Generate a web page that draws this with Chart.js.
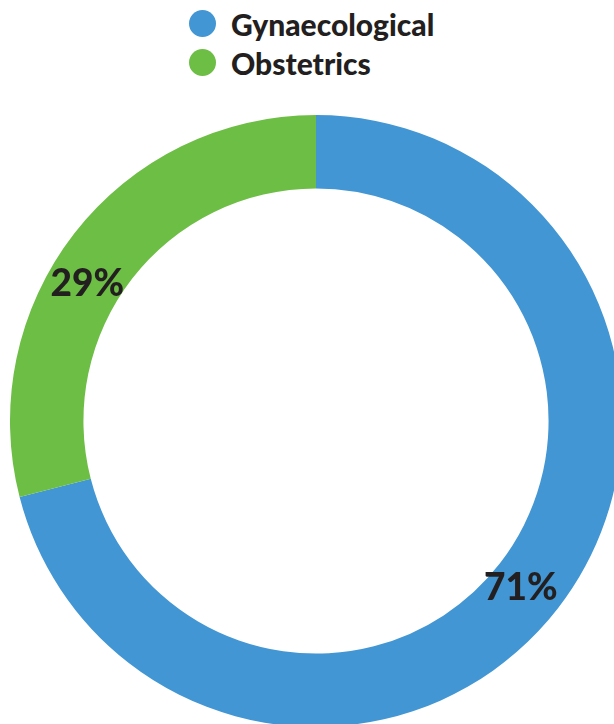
<!DOCTYPE html>
<html>
<head>
<meta charset="utf-8">
<script src="https://cdn.jsdelivr.net/npm/chart.js@4"></script>
<style>
  html, body { margin: 0; padding: 0; width: 614px; height: 724px; overflow: hidden; background: #fff; }
  #legend { position: absolute; left: 189px; top: 4px; font-family: Lato, "Open Sans", sans-serif; font-weight: 900; font-size: 30px; color: #231f20; }
  .item { display: flex; align-items: center; height: 39px; }
  .dot { width: 27px; height: 27px; border-radius: 50%; margin-right: 15px; }
  #wrap { position: absolute; left: 10px; top: 115px; width: 612px; height: 612px; }
</style>
</head>
<body>
<div id="legend"></div>
<div id="wrap"><canvas id="c" width="612" height="612"></canvas></div>
<script>
const categories = ["Gynaecological", "Obstetrics"];
const shares = [71, 29];
const percentLabels = ["71%", "29%"];
const colors = ["#4196d3", "#6dbe45"];

const legend = document.getElementById('legend');
categories.forEach((name, i) => {
  const row = document.createElement('div');
  row.className = 'item';
  const dot = document.createElement('span');
  dot.className = 'dot';
  dot.style.background = colors[i];
  const txt = document.createElement('span');
  txt.textContent = name;
  row.appendChild(dot);
  row.appendChild(txt);
  legend.appendChild(row);
});

// small nudges so the labels sit where the original places them
const labelNudge = [[-8, 2], [-16, 28]];

const labelPlugin = {
  id: 'sliceLabels',
  afterDatasetsDraw(chart) {
    const ctx = chart.ctx;
    const meta = chart.getDatasetMeta(0);
    ctx.save();
    ctx.font = '900 37px Lato, "Open Sans", sans-serif';
    ctx.fillStyle = '#231f20';
    ctx.textAlign = 'center';
    ctx.textBaseline = 'middle';
    meta.data.forEach((arc, i) => {
      const p = arc.tooltipPosition();
      ctx.fillText(percentLabels[i], p.x + labelNudge[i][0], p.y + labelNudge[i][1]);
    });
    ctx.restore();
  }
};

new Chart(document.getElementById('c'), {
  type: 'doughnut',
  data: {
    labels: categories,
    datasets: [{
      data: shares,
      backgroundColor: colors,
      borderWidth: 0
    }]
  },
  options: {
    responsive: false,
    animation: false,
    cutout: '76%',
    layout: { padding: 0 },
    plugins: { legend: { display: false }, tooltip: { enabled: false } }
  },
  plugins: [labelPlugin]
});
</script>
</body>
</html>
